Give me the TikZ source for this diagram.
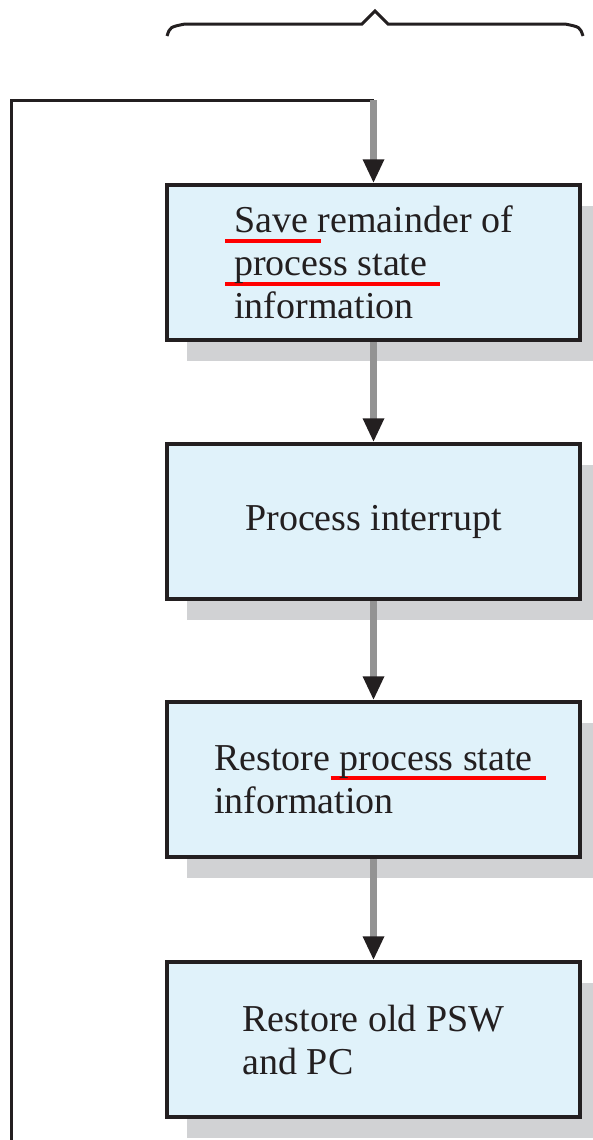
\documentclass[tikz,border=0pt]{standalone}
\usepackage{fontspec}
\setmainfont{Liberation Serif}
\usetikzlibrary{arrows.meta,shadows}

\definecolor{boxblue}{RGB}{224,242,250}
\definecolor{inkdark}{RGB}{35,31,32}
\definecolor{flowgray}{RGB}{147,147,147}
\definecolor{shadegray}{RGB}{209,210,212}

% red marker line under a word
\newcommand{\redline}[1]{\setbox0=\hbox{#1}\rlap{\kern-4.5pt\textcolor{red}{\rule[-5pt]{\dimexpr\wd0+11pt\relax}{2pt}}}\box0\relax}

\begin{document}
\begin{tikzpicture}[x=0.5pt,y=-0.5pt,
    font=\fontsize{19}{21.5}\selectfont,
    stepbox/.style={draw=inkdark,line width=1.75pt,fill=boxblue,text=inkdark,
      minimum width=206.5pt,minimum height=77.5pt,align=left,
      drop shadow={shadow xshift=10pt,shadow yshift=-10.5pt,fill=shadegray,opacity=1}},
    flow/.style={draw=flowgray,line width=3.5pt,-{Triangle[width=10pt,length=12pt,color=inkdark]}},
    loopline/.style={draw=inkdark,line width=1.5pt}]
  \useasboundingbox (0,0) rectangle (593,1140);

  % Brace over the steps
  \draw[loopline] (167,36) .. controls (170,27) .. (185,24) -- (362,24) -- (375,11)
    -- (388,24) -- (565,24) .. controls (580,27) .. (583,36);

  % Steps
  \node[stepbox] (save) at (373.5,262.5) {\redline{Save} remainder of\\\redline{process state}\\information};
  \node[stepbox] (handle) at (373.5,521.5) {Process interrupt};
  \node[stepbox] (restore) at (373.5,779.5) {Restore \redline{process state}\\information};
  \node[stepbox] (resume) at (373.5,1039.5) {Restore old PSW\\and PC};

  % Return path
  \coordinate (back) at (11.5,1160);
  \coordinate (turn) at (373.5,100);
  \draw[loopline] (back) |- (turn);

  \draw[flow] (turn) -- (save);
  \draw[flow] (save) -- (handle);
  \draw[flow] (handle) -- (restore);
  \draw[flow] (restore) -- (resume);
\end{tikzpicture}
\end{document}
